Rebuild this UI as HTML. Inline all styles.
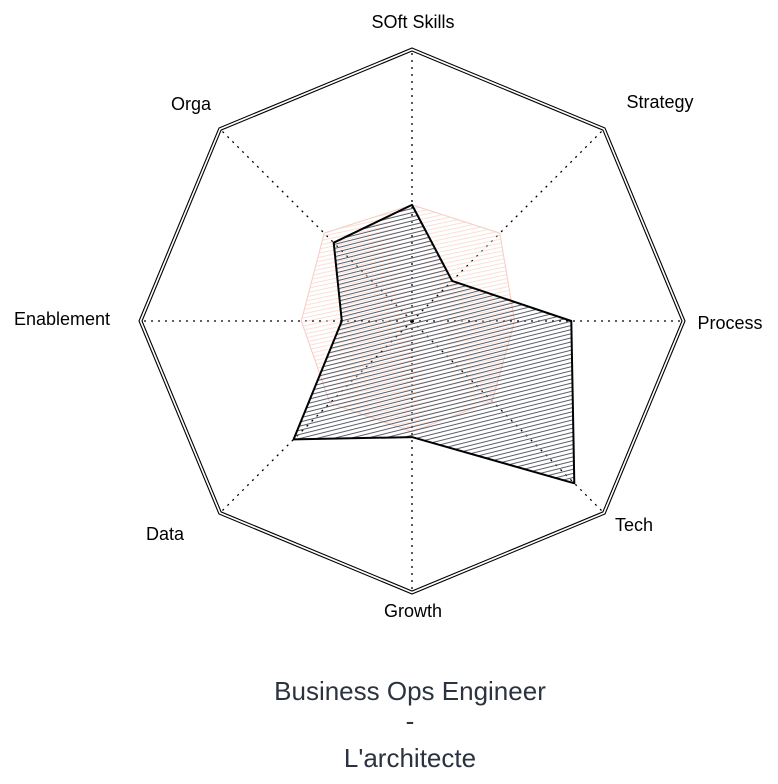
<!DOCTYPE html>
<html><head><meta charset="utf-8"><style>
html,body{margin:0;padding:0;background:#fff;}
svg{display:block;font-family:"Liberation Sans","DejaVu Sans",sans-serif;}
</style></head><body>
<svg id="chart" width="778" height="784" viewBox="0 0 778 784">
<defs>
<pattern id="hatchDark" patternUnits="userSpaceOnUse" width="4" height="4" patternTransform="rotate(-14)">
<line x1="0" y1="2" x2="4" y2="2" stroke="#5a5f6a" stroke-width="1"/>
</pattern>
<pattern id="hatchPink" patternUnits="userSpaceOnUse" width="4" height="4" patternTransform="rotate(-12)">
<line x1="0" y1="2" x2="4" y2="2" stroke="#f8d3c8" stroke-width="0.7"/>
</pattern>
</defs>
<g id="grid"></g>
<g id="series"></g>
<g id="labels"></g>
<g fill="#2b3340" font-size="26" text-anchor="middle">
<text x="410" y="700">Business Ops Engineer</text>
<text x="410" y="730">-</text>
<text x="410" y="767">L'architecte</text>
</g>
</svg>
<script>
const categories = ["SOft Skills","Strategy","Process","Tech","Growth","Data","Enablement","Orga"];
const seriesPink = [4.3,4.6,3.8,4.2,4.1,4.3,4.1,4.6];
const seriesDark = [4.3,2.1,5.9,8.5,4.3,6.2,2.6,4.1];
const maxValue = 10;

const NS="http://www.w3.org/2000/svg";
const cx=412, cy=321, R=270;
function ang(i){return -Math.PI/2 + i*2*Math.PI/categories.length;}
function px(i,v){return cx+Math.cos(ang(i))*R*v/maxValue;}
function py(i,v){return cy+Math.sin(ang(i))*R*v/maxValue;}
function mk(tag,attrs,parent){const e=document.createElementNS(NS,tag);for(const k in attrs)e.setAttribute(k,attrs[k]);parent.appendChild(e);return e;}

const grid=document.getElementById('grid');
categories.forEach((c,i)=>{
  const l=mk('line',{x1:cx,y1:cy,x2:px(i,maxValue),y2:py(i,maxValue),stroke:'#000','stroke-width':1.3,'stroke-dasharray':'2,5'},grid);
  
  
});
[0,3].forEach((off)=>{
  const pts=categories.map((c,i)=>(px(i,maxValue)+Math.cos(ang(i))*off).toFixed(1)+','+(py(i,maxValue)+Math.sin(ang(i))*off).toFixed(1)).join(' ');
  const p=mk('polygon',{points:pts,fill:'none',stroke:'#000','stroke-width':1.1},grid);
  
  
});

const sg=document.getElementById('series');
function drawSeries(vals,fill,stroke,sw,name){
  const pts=vals.map((v,i)=>px(i,v).toFixed(1)+','+py(i,v).toFixed(1)).join(' ');
  const p=mk('polygon',{points:pts,fill:fill,stroke:stroke,'stroke-width':sw,'stroke-linejoin':'round'},sg);
  
  
}
drawSeries(seriesPink,'url(#hatchPink)','#f6d0c4',1.1,'series-pink');
drawSeries(seriesDark,'url(#hatchDark)','#000',2,'series-dark');

const lg=document.getElementById('labels');
const labelPos=[[413,28,'middle'],[660,108,'middle'],[730,329,'middle'],[634,531,'middle'],[413,617,'middle'],[165,540,'middle'],[62,325,'middle'],[191,110,'middle']];
categories.forEach((c,i)=>{
  const t=mk('text',{x:labelPos[i][0],y:labelPos[i][1],'text-anchor':labelPos[i][2],'font-size':18,fill:'#000'},lg);
  t.textContent=c;
  
  
});
</script>
</body></html>
